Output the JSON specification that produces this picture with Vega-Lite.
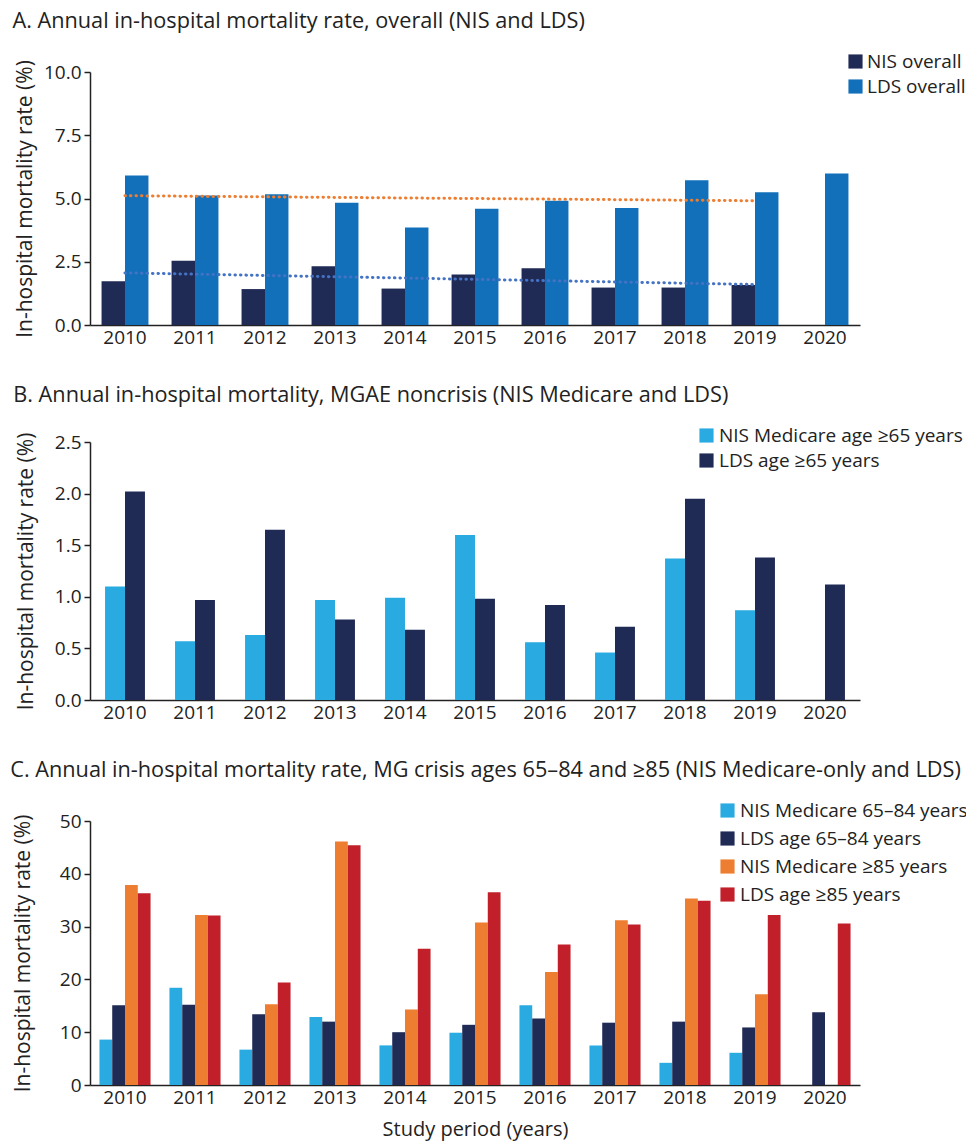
{
  "$schema": "https://vega.github.io/schema/vega-lite/v6.json",
  "background": "white",
  "padding": {"left": 10, "top": 11, "right": 0, "bottom": 5},
  "spacing": 38,
  "resolve": {
    "scale": {"x": "independent", "y": "independent", "xOffset": "independent", "color": "independent"},
    "legend": {"color": "independent"}
  },
  "config": {
    "font": "Open Sans",
    "view": {"stroke": null},
    "axis": {
      "labelFont": "Open Sans",
      "titleFont": "Open Sans",
      "labelFontSize": 19,
      "titleFontSize": 21,
      "titleFontWeight": "normal",
      "labelColor": "#222222",
      "titleColor": "#222222",
      "domainColor": "#222222",
      "tickColor": "#222222",
      "domainWidth": 1.5,
      "grid": false
    },
    "axisX": {"ticks": false, "labelAngle": 0, "labelPadding": 3},
    "axisY": {"tickSize": 6, "tickWidth": 1.5, "labelPadding": 3},
    "legend": {
      "labelFont": "Open Sans",
      "labelFontSize": 19,
      "labelColor": "#222222",
      "labelLimit": 400,
      "symbolType": "square",
      "symbolSize": 200,
      "symbolStrokeWidth": 0,
      "rowPadding": 4,
      "labelOffset": 3
    },
    "title": {
      "font": "Open Sans",
      "fontSize": 21.7,
      "fontWeight": "normal",
      "color": "#222222",
      "anchor": "start",
      "frame": "bounds",
      "dx": -2,
      "offset": 19
    }
  },
  "datasets": {
    "overall": [
      {"year": "2010", "series": "NIS overall", "rate": 1.73},
      {"year": "2010", "series": "LDS overall", "rate": 5.91},
      {"year": "2011", "series": "NIS overall", "rate": 2.54},
      {"year": "2011", "series": "LDS overall", "rate": 5.12},
      {"year": "2012", "series": "NIS overall", "rate": 1.42},
      {"year": "2012", "series": "LDS overall", "rate": 5.17},
      {"year": "2013", "series": "NIS overall", "rate": 2.32},
      {"year": "2013", "series": "LDS overall", "rate": 4.83},
      {"year": "2014", "series": "NIS overall", "rate": 1.44},
      {"year": "2014", "series": "LDS overall", "rate": 3.85},
      {"year": "2015", "series": "NIS overall", "rate": 2.0},
      {"year": "2015", "series": "LDS overall", "rate": 4.59},
      {"year": "2016", "series": "NIS overall", "rate": 2.24},
      {"year": "2016", "series": "LDS overall", "rate": 4.91},
      {"year": "2017", "series": "NIS overall", "rate": 1.48},
      {"year": "2017", "series": "LDS overall", "rate": 4.62},
      {"year": "2018", "series": "NIS overall", "rate": 1.48},
      {"year": "2018", "series": "LDS overall", "rate": 5.72},
      {"year": "2019", "series": "NIS overall", "rate": 1.58},
      {"year": "2019", "series": "LDS overall", "rate": 5.25},
      {"year": "2020", "series": "LDS overall", "rate": 5.99}
    ],
    "trend": [
      {"year": "2010", "trend": "LDS trend", "rate": 5.11},
      {"year": "2019", "trend": "LDS trend", "rate": 4.91},
      {"year": "2010", "trend": "NIS trend", "rate": 2.06},
      {"year": "2019", "trend": "NIS trend", "rate": 1.6}
    ],
    "noncrisis": [
      {"year": "2010", "series": "NIS Medicare age ≥65 years", "rate": 1.10},
      {"year": "2010", "series": "LDS age ≥65 years", "rate": 2.02},
      {"year": "2011", "series": "NIS Medicare age ≥65 years", "rate": 0.57},
      {"year": "2011", "series": "LDS age ≥65 years", "rate": 0.97},
      {"year": "2012", "series": "NIS Medicare age ≥65 years", "rate": 0.63},
      {"year": "2012", "series": "LDS age ≥65 years", "rate": 1.65},
      {"year": "2013", "series": "NIS Medicare age ≥65 years", "rate": 0.97},
      {"year": "2013", "series": "LDS age ≥65 years", "rate": 0.78},
      {"year": "2014", "series": "NIS Medicare age ≥65 years", "rate": 0.99},
      {"year": "2014", "series": "LDS age ≥65 years", "rate": 0.68},
      {"year": "2015", "series": "NIS Medicare age ≥65 years", "rate": 1.60},
      {"year": "2015", "series": "LDS age ≥65 years", "rate": 0.98},
      {"year": "2016", "series": "NIS Medicare age ≥65 years", "rate": 0.56},
      {"year": "2016", "series": "LDS age ≥65 years", "rate": 0.92},
      {"year": "2017", "series": "NIS Medicare age ≥65 years", "rate": 0.46},
      {"year": "2017", "series": "LDS age ≥65 years", "rate": 0.71},
      {"year": "2018", "series": "NIS Medicare age ≥65 years", "rate": 1.37},
      {"year": "2018", "series": "LDS age ≥65 years", "rate": 1.95},
      {"year": "2019", "series": "NIS Medicare age ≥65 years", "rate": 0.87},
      {"year": "2019", "series": "LDS age ≥65 years", "rate": 1.38},
      {"year": "2020", "series": "LDS age ≥65 years", "rate": 1.12}
    ],
    "crisis": [
      {"year": "2010", "series": "NIS Medicare 65–84 years", "rate": 8.6},
      {"year": "2010", "series": "LDS age 65–84 years", "rate": 15.1},
      {"year": "2010", "series": "NIS Medicare ≥85 years", "rate": 37.9},
      {"year": "2010", "series": "LDS age ≥85 years", "rate": 36.3},
      {"year": "2011", "series": "NIS Medicare 65–84 years", "rate": 18.4},
      {"year": "2011", "series": "LDS age 65–84 years", "rate": 15.2},
      {"year": "2011", "series": "NIS Medicare ≥85 years", "rate": 32.2},
      {"year": "2011", "series": "LDS age ≥85 years", "rate": 32.1},
      {"year": "2012", "series": "NIS Medicare 65–84 years", "rate": 6.7},
      {"year": "2012", "series": "LDS age 65–84 years", "rate": 13.4},
      {"year": "2012", "series": "NIS Medicare ≥85 years", "rate": 15.3},
      {"year": "2012", "series": "LDS age ≥85 years", "rate": 19.4},
      {"year": "2013", "series": "NIS Medicare 65–84 years", "rate": 12.9},
      {"year": "2013", "series": "LDS age 65–84 years", "rate": 12.0},
      {"year": "2013", "series": "NIS Medicare ≥85 years", "rate": 46.1},
      {"year": "2013", "series": "LDS age ≥85 years", "rate": 45.4},
      {"year": "2014", "series": "NIS Medicare 65–84 years", "rate": 7.5},
      {"year": "2014", "series": "LDS age 65–84 years", "rate": 10.0},
      {"year": "2014", "series": "NIS Medicare ≥85 years", "rate": 14.3},
      {"year": "2014", "series": "LDS age ≥85 years", "rate": 25.8},
      {"year": "2015", "series": "NIS Medicare 65–84 years", "rate": 9.9},
      {"year": "2015", "series": "LDS age 65–84 years", "rate": 11.4},
      {"year": "2015", "series": "NIS Medicare ≥85 years", "rate": 30.8},
      {"year": "2015", "series": "LDS age ≥85 years", "rate": 36.5},
      {"year": "2016", "series": "NIS Medicare 65–84 years", "rate": 15.1},
      {"year": "2016", "series": "LDS age 65–84 years", "rate": 12.6},
      {"year": "2016", "series": "NIS Medicare ≥85 years", "rate": 21.4},
      {"year": "2016", "series": "LDS age ≥85 years", "rate": 26.6},
      {"year": "2017", "series": "NIS Medicare 65–84 years", "rate": 7.5},
      {"year": "2017", "series": "LDS age 65–84 years", "rate": 11.8},
      {"year": "2017", "series": "NIS Medicare ≥85 years", "rate": 31.2},
      {"year": "2017", "series": "LDS age ≥85 years", "rate": 30.4},
      {"year": "2018", "series": "NIS Medicare 65–84 years", "rate": 4.2},
      {"year": "2018", "series": "LDS age 65–84 years", "rate": 12.0},
      {"year": "2018", "series": "NIS Medicare ≥85 years", "rate": 35.3},
      {"year": "2018", "series": "LDS age ≥85 years", "rate": 34.9},
      {"year": "2019", "series": "NIS Medicare 65–84 years", "rate": 6.1},
      {"year": "2019", "series": "LDS age 65–84 years", "rate": 10.9},
      {"year": "2019", "series": "NIS Medicare ≥85 years", "rate": 17.2},
      {"year": "2019", "series": "LDS age ≥85 years", "rate": 32.2},
      {"year": "2020", "series": "LDS age 65–84 years", "rate": 13.8},
      {"year": "2020", "series": "LDS age ≥85 years", "rate": 30.6}
    ]
  },
  "vconcat": [
    {
      "title": {"text": "A. Annual in-hospital mortality rate, overall (NIS and LDS)"},
      "width": 770,
      "height": 253,
      "layer": [
        {
          "data": {"name": "overall"},
          "mark": {"type": "bar"},
          "encoding": {
            "x": {
              "field": "year", "type": "nominal",
              "scale": {"paddingInner": 0.33, "paddingOuter": 0.165},
              "axis": {"title": null}
            },
            "xOffset": {
              "field": "series", "type": "nominal",
              "scale": {"domain": ["NIS overall", "LDS overall"]}
            },
            "y": {
              "field": "rate", "type": "quantitative",
              "scale": {"domain": [0, 10]},
              "axis": {"title": "In-hospital mortality rate (%)", "values": [0, 2.5, 5, 7.5, 10], "format": ".1f", "titlePadding": 8}
            },
            "color": {
              "field": "series", "type": "nominal",
              "scale": {"domain": ["NIS overall", "LDS overall"], "range": ["#1f2a55", "#1170b9"]},
              "legend": {"title": null, "orient": "none", "legendX": 756, "legendY": -20, "rowPadding": 5, "labelOffset": 2}
            }
          }
        },
        {
          "data": {"name": "trend"},
          "mark": {"type": "line", "strokeWidth": 3, "strokeDash": [0.5, 5], "strokeCap": "round"},
          "encoding": {
            "x": {"field": "year", "type": "nominal"},
            "y": {"field": "rate", "type": "quantitative"},
            "stroke": {
              "field": "trend", "type": "nominal",
              "scale": {"domain": ["LDS trend", "NIS trend"], "range": ["#ed7d31", "#4472c4"]},
              "legend": null
            }
          }
        }
      ]
    },
    {
      "title": {"text": "B. Annual in-hospital mortality, MGAE noncrisis (NIS Medicare and LDS)"},
      "width": 770,
      "height": 258,
      "data": {"name": "noncrisis"},
      "mark": {"type": "bar"},
      "encoding": {
        "x": {
          "field": "year", "type": "nominal",
          "scale": {"domain": ["2010", "2011", "2012", "2013", "2014", "2015", "2016", "2017", "2018", "2019", "2020"], "paddingInner": 0.43, "paddingOuter": 0.215},
          "axis": {"title": null}
        },
        "xOffset": {
          "field": "series", "type": "nominal",
          "scale": {"domain": ["NIS Medicare age ≥65 years", "LDS age ≥65 years"]}
        },
        "y": {
          "field": "rate", "type": "quantitative",
          "scale": {"domain": [0, 2.5]},
          "axis": {"title": "In-hospital mortality rate (%)", "values": [0, 0.5, 1, 1.5, 2, 2.5], "format": ".1f", "titlePadding": 18}
        },
        "color": {
          "field": "series", "type": "nominal",
          "scale": {"domain": ["NIS Medicare age ≥65 years", "LDS age ≥65 years"], "range": ["#29abe2", "#1f2a55"]},
          "legend": {"title": null, "orient": "none", "legendX": 607, "legendY": -16, "rowPadding": 5}
        }
      }
    },
    {
      "title": {"text": "C. Annual in-hospital mortality rate, MG crisis ages 65–84 and ≥85 (NIS Medicare-only and LDS)"},
      "width": 770,
      "height": 264,
      "data": {"name": "crisis"},
      "mark": {"type": "bar"},
      "encoding": {
        "x": {
          "field": "year", "type": "nominal",
          "scale": {"paddingInner": 0.27, "paddingOuter": 0.135},
          "axis": {"title": "Study period (years)", "titlePadding": 12, "titleFontSize": 20}
        },
        "xOffset": {
          "field": "series", "type": "nominal",
          "scale": {"domain": ["NIS Medicare 65–84 years", "LDS age 65–84 years", "NIS Medicare ≥85 years", "LDS age ≥85 years"]}
        },
        "y": {
          "field": "rate", "type": "quantitative",
          "scale": {"domain": [0, 50]},
          "axis": {"title": "In-hospital mortality rate (%)", "values": [0, 10, 20, 30, 40, 50], "titlePadding": 26}
        },
        "color": {
          "field": "series", "type": "nominal",
          "scale": {
            "domain": ["NIS Medicare 65–84 years", "LDS age 65–84 years", "NIS Medicare ≥85 years", "LDS age ≥85 years"],
            "range": ["#29abe2", "#1f2a55", "#ed7d31", "#c1202a"]
          },
          "legend": {"title": null, "orient": "none", "legendX": 628, "legendY": -20, "rowPadding": 8}
        }
      }
    }
  ]
}
